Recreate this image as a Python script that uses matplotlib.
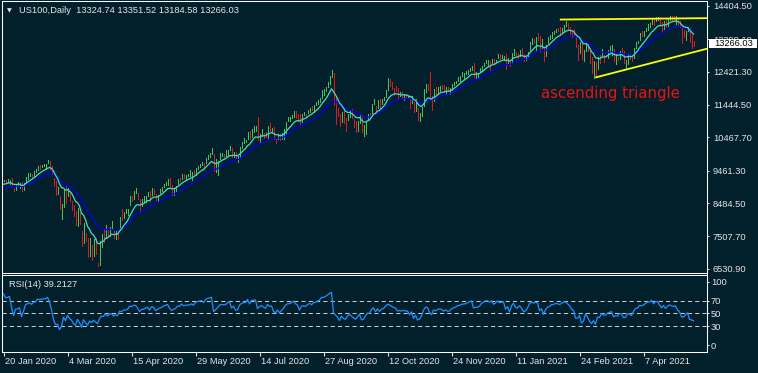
import matplotlib
matplotlib.use("Agg")
import matplotlib.pyplot as plt
import matplotlib.transforms as mtransforms
from matplotlib.patches import Rectangle
import pandas as pd

W, H = 758, 373
BG = "#01202b"
FG = "#e6e6e6"
UP = "#4cc24c"
DOWN = "#dc1c1c"

# closes of the days before the first visible bar (only used to warm up the indicators)
warmup = [8570, 8575, 8580, 8640, 8690, 8710, 8705, 8770, 8760, 8710, 8730,
          8870, 8790, 8850, 8845, 8935, 9020, 9000, 9100, 9060, 9080, 9150, 9175]

closes = [
    9180, 9140, 9150, 9180, 9050, 8890, 9040, 9060, 9080, 8870,
    9030, 9280, 9330, 9380, 9340, 9440, 9460, 9610, 9600, 9620,
    9640, 9640, 9720, 9630, 9450, 9070, 8780, 8790, 8340, 8460,
    8880, 8610, 8950, 8660, 8530, 8150, 7950, 8340, 7950, 7210,
    7880, 7400, 6900, 7330, 7020, 7290, 6990, 6650, 7200, 7550,
    7490, 7820, 7500, 7770, 7810, 7490, 7640, 7530, 8070, 8010,
    8230, 8230, 8310, 8700, 8670, 8830, 8830, 8640, 8340, 8570,
    8570, 8710, 8780, 8580, 8900, 8890, 8640, 8740, 8860, 8930,
    9050, 9120, 9200, 9000, 8860, 8940, 9010, 9190, 9180, 9370,
    9290, 9320, 9340, 9340, 9410, 9370, 9550, 9600, 9650, 9680,
    9620, 9820, 9920, 9950, 10020, 9490, 9590, 9730, 9900, 9950,
    9940, 9950, 10060, 10130, 9910, 10020, 9850, 9870, 10160, 10280,
    10340, 10360, 10600, 10430, 10710, 10760, 10770, 10400, 10550, 10620,
    10550, 10500, 10770, 10680, 10720, 10460, 10380, 10540, 10400, 10540,
    10680, 10910, 11030, 11040, 11110, 11240, 11140, 11090, 10860, 11140,
    11150, 11130, 11250, 11340, 11290, 11430, 11460, 11540, 11630, 11860,
    11860, 11950, 12110, 12290, 12420, 11460, 11310, 11150, 10850, 11140,
    10920, 10850, 11060, 11190, 11050, 10910, 10790, 10940, 11120, 10630,
    10670, 10910, 11120, 11090, 11420, 11580, 11290, 11560, 11360, 11580,
    11650, 11860, 12090, 12050, 11970, 11900, 11850, 11680, 11720, 11680,
    11740, 11690, 11700, 11500, 11670, 11240, 11440, 11050, 11100, 11300,
    11740, 12020, 12000, 11630, 11470, 11880, 11810, 11940, 11990, 11960,
    11840, 11940, 11860, 11870, 12020, 12090, 12150, 12260, 12270, 12360,
    12370, 12390, 12460, 12530, 12580, 12340, 12380, 12380, 12440, 12600,
    12660, 12760, 12760, 12720, 12800, 12710, 12770, 12900, 12850, 12870,
    12890, 12690, 12800, 12620, 12940, 13110, 12940, 12920, 13050, 12960,
    12800, 12850, 13000, 13300, 13400, 13370, 13440, 13410, 13100, 13210,
    12930, 13210, 13400, 13440, 13610, 13610, 13690, 13680, 13650, 13720,
    13810, 13830, 13770, 13710, 13590, 13540, 13200, 13190, 13300, 12830,
    12910, 13290, 13090, 12730, 12510, 12670, 12300, 12790, 12730, 13050,
    12920, 12900, 13060, 13120, 13180, 12780, 12860, 12830, 13010, 12970,
    12710, 12720, 12940, 12920, 12830, 13090, 13310, 13330, 13560, 13540,
    13600, 13720, 13850, 13850, 14000, 13860, 14040, 14050, 13920, 13790,
    13950, 13820, 13970, 14060, 14020, 14000, 14030, 13860, 13800, 13540,
    13520, 13630, 13720, 13360, 13320, 13266.03,
]

highs = [
    9200, 9190, 9230, 9190, 9240, 8950, 9050, 9140, 9090, 9140,
    9100, 9290, 9400, 9390, 9380, 9450, 9520, 9620, 9630, 9640,
    9660, 9660, 9790, 9760, 9600, 9250, 9150, 8990, 8700, 8470,
    8890, 9020, 8960, 8850, 8560, 8450, 8250, 8350, 8200, 7650,
    7900, 7600, 7440, 7450, 7230, 7420, 7460, 6700, 7360, 7560,
    7720, 7830, 7700, 7790, 7950, 7700, 7650, 7640, 8090, 8330,
    8240, 8310, 8320, 8710, 8700, 8850, 8950, 8810, 8620, 8610,
    8700, 8720, 8830, 8850, 8950, 8930, 8770, 8750, 8920, 8970,
    9060, 9130, 9230, 9240, 9040, 8950, 9020, 9230, 9260, 9380,
    9380, 9330, 9360, 9500, 9420, 9500, 9560, 9610, 9660, 9730,
    9700, 9850, 9930, 10000, 10140, 9950, 9800, 9750, 10000, 10000,
    9960, 10090, 10070, 10200, 10130, 10030, 10020, 9900, 10180, 10320,
    10440, 10380, 10620, 10650, 10720, 10800, 10790, 11080, 10570, 10700,
    10600, 10620, 10800, 10900, 10740, 10760, 10430, 10560, 10560, 10580,
    10720, 10920, 11060, 11060, 11130, 11260, 11250, 11150, 11150, 11160,
    11230, 11170, 11270, 11350, 11400, 11440, 11520, 11590, 11640, 11870,
    11910, 11960, 12120, 12300, 12480, 12400, 11680, 11350, 11160, 11230,
    11370, 11050, 11170, 11280, 11310, 11000, 10940, 10950, 11130, 11130,
    10840, 10950, 11150, 11180, 11470, 11620, 11410, 11570, 11610, 11600,
    11680, 11880, 12230, 12200, 12130, 11930, 12000, 11950, 11830, 11810,
    11760, 11750, 11720, 11720, 11690, 11520, 11600, 11350, 11200, 11380,
    11900, 12060, 12050, 12430, 11700, 11900, 11960, 11960, 12010, 12030,
    12020, 11960, 11980, 11940, 12050, 12120, 12160, 12280, 12300, 12420,
    12380, 12460, 12470, 12550, 12600, 12680, 12420, 12390, 12530, 12610,
    12690, 12780, 12790, 12740, 12810, 12800, 12790, 12960, 12970, 12920,
    12900, 12970, 12840, 12790, 12980, 13120, 13030, 13000, 13080, 13130,
    12960, 12880, 13020, 13310, 13430, 13400, 13480, 13580, 13490, 13420,
    13180, 13240, 13470, 13530, 13620, 13660, 13710, 13750, 13760, 13750,
    13820, 13950, 13890, 13760, 13680, 13710, 13450, 13240, 13310, 13370,
    13080, 13300, 13300, 13130, 12860, 12740, 12720, 12880, 12930, 13100,
    12940, 12930, 13070, 13190, 13230, 13110, 12950, 12870, 13050, 13140,
    13060, 12770, 12970, 12960, 12910, 13140, 13330, 13350, 13600, 13640,
    13640, 13740, 13860, 13880, 14010, 14050, 14060, 14070, 14060, 13930,
    13960, 14010, 14040, 14090, 14090, 14090, 14090, 14000, 13960, 13790,
    13680, 13640, 13770, 13740, 13530, 13351.52,
]

lows = [
    9150, 9080, 9140, 9060, 9000, 8870, 8900, 9040, 8950, 8860,
    8900, 9120, 9230, 9320, 9280, 9300, 9430, 9490, 9510, 9580,
    9620, 9530, 9680, 9530, 9380, 9000, 8740, 8760, 8330, 8030,
    8380, 8510, 8700, 8560, 8290, 8100, 7850, 7820, 7880, 7200,
    7290, 7350, 6880, 6920, 6780, 6900, 6970, 6620, 6630, 7170,
    7330, 7440, 7480, 7510, 7760, 7460, 7420, 7410, 7700, 7990,
    8050, 8190, 8130, 8450, 8560, 8630, 8790, 8620, 8240, 8410,
    8520, 8530, 8710, 8550, 8730, 8780, 8600, 8560, 8790, 8850,
    8980, 9050, 9040, 8990, 8740, 8750, 8860, 9060, 9160, 9230,
    9250, 9230, 9300, 9320, 9200, 9360, 9350, 9520, 9570, 9630,
    9560, 9680, 9810, 9870, 9960, 9470, 9440, 9330, 9800, 9900,
    9870, 9890, 9890, 10080, 9860, 9860, 9830, 9730, 9850, 10150,
    10300, 10320, 10420, 10420, 10470, 10630, 10640, 10380, 10300, 10490,
    10440, 10470, 10450, 10650, 10620, 10410, 10290, 10410, 10390, 10400,
    10410, 10600, 10950, 10950, 11030, 11070, 11030, 10960, 10850, 10930,
    11130, 11060, 11180, 11230, 11280, 11230, 11420, 11470, 11520, 11650,
    11720, 11850, 11960, 12050, 12260, 11420, 10860, 11100, 10800, 10920,
    10880, 10650, 10980, 11080, 11040, 10760, 10630, 10640, 10890, 10620,
    10500, 10570, 11010, 11050, 11130, 11470, 11220, 11330, 11330, 11450,
    11590, 11680, 11880, 11990, 11920, 11740, 11840, 11650, 11690, 11650,
    11570, 11640, 11680, 11350, 11480, 11220, 11250, 10970, 10940, 11100,
    11400, 11830, 11870, 11600, 11280, 11560, 11730, 11760, 11850, 11900,
    11830, 11770, 11850, 11770, 11880, 12020, 12080, 12140, 12140, 12290,
    12240, 12360, 12370, 12440, 12470, 12280, 12250, 12250, 12420, 12480,
    12590, 12700, 12640, 12470, 12700, 12700, 12710, 12830, 12820, 12840,
    12780, 12520, 12650, 12590, 12690, 12940, 12900, 12840, 12910, 12950,
    12740, 12780, 12900, 13090, 13270, 13290, 13080, 13380, 13020, 13150,
    12750, 12900, 13300, 13400, 13430, 13560, 13620, 13640, 13540, 13620,
    13660, 13790, 13710, 13570, 13480, 13500, 13170, 12780, 13000, 12800,
    12740, 13050, 13060, 12700, 12380, 12250, 12260, 12500, 12700, 12900,
    12720, 12870, 12840, 13020, 12920, 12760, 12660, 12780, 12800, 12930,
    12700, 12530, 12650, 12800, 12740, 12830, 13140, 13290, 13370, 13510,
    13510, 13640, 13680, 13780, 13870, 13840, 13940, 13990, 13830, 13660,
    13710, 13770, 13800, 13980, 13990, 13960, 13850, 13830, 13760, 13300,
    13480, 13380, 13650, 13330, 13140, 13184.58,
]

last_ohlc = [13324.74, 13351.52, 13184.58, 13266.03]
rsi_value = 39.2127

price_ticks = [14404.50, 13398.10, 12421.30, 11444.50, 10467.70,
               9461.30, 8484.50, 7507.70, 6530.90]
rsi_ticks = [100, 70, 50, 30, 0]
rsi_levels = [70, 50, 30]
date_labels = ["20 Jan 2020", "4 Mar 2020", "15 Apr 2020", "29 May 2020",
               "14 Jul 2020", "27 Aug 2020", "12 Oct 2020", "24 Nov 2020",
               "11 Jan 2021", "24 Feb 2021", "7 Apr 2021"]
date_step = 32

# trendlines of the triangle (bar index, price)
upper_x = [278.6, 352]
upper_y = [13990, 14032]
lower_x = [296.3, 352]
lower_y = [12261, 13120]

series = pd.Series(warmup + closes, dtype=float)
n0 = len(warmup)
fast = series.ewm(span=10, adjust=False).mean().iloc[n0:].to_numpy()
slow = series.ewm(span=21, adjust=False).mean().iloc[n0:].to_numpy()
delta = series.diff()
gain = delta.clip(lower=0).ewm(alpha=1 / 14, adjust=False).mean()
loss = (-delta.clip(upper=0)).ewm(alpha=1 / 14, adjust=False).mean()
rsi = (100 - 100 / (1 + gain / loss)).iloc[n0:].to_numpy()

bars = list(range(len(closes)))
opens = series.shift(1).iloc[n0:].to_numpy()
colors = [UP if c >= o else DOWN for c, o in zip(closes, opens)]

plt.rcParams["font.family"] = ["Liberation Sans", "DejaVu Sans"]


def box(left, top, right, bottom):
    return [left / W, 1 - bottom / H, (right - left) / W, (bottom - top) / H]


fig = plt.figure(figsize=(W / 100, H / 100), dpi=100, facecolor=BG)
ax = fig.add_axes(box(1.5, 0.5, 706.5, 272.5), facecolor=BG)
ax2 = fig.add_axes(box(1.5, 274.5, 706.5, 351.5), facecolor=BG)

for a in (ax, ax2):
    a.set_xlim(-1.0, 351.5)
    for s in a.spines.values():
        s.set_color("white")
        s.set_linewidth(0.75)

# price pane
ax.set_ylim(6416.5, 14560.2)
ax.vlines(bars, lows, highs, colors=colors, linewidth=0.7, antialiased=False)
ax.plot(bars, slow, color="#0000ff", linewidth=0.9)
ax.plot(bars, fast, color="#40e0c8", linewidth=0.9)
ax.plot(upper_x, upper_y, color="#ffff00", linewidth=1.3)
ax.plot(lower_x, lower_y, color="#ffff00", linewidth=1.3)
ax.text(268.6, 11650, "ascending triangle", color="#ee1111", fontsize=10.7,
        family="DejaVu Sans", va="baseline", ha="left")

ax.set_xticks([])
ax.yaxis.tick_right()
ax.set_yticks(price_ticks)
ax.set_yticklabels([f"{v:.2f}" for v in price_ticks])
ax.tick_params(axis="y", colors=FG, length=1.6, width=0.75, pad=3, labelsize=6.7)

blend = mtransforms.blended_transform_factory(ax.transAxes, ax.transData)
ax.add_patch(Rectangle((1.0035, last_ohlc[3] - 140), 48.5 / 705, 285,
                       transform=blend, facecolor="white", edgecolor="none",
                       clip_on=False, zorder=10))
ax.text(1.0035 + 24.5 / 705, last_ohlc[3], f"{last_ohlc[3]:.2f}", transform=blend,
        ha="center", va="center", color="black", fontsize=6.7, zorder=11, clip_on=False)

# RSI pane
ax2.set_ylim(-9.75, 111.3)
for lvl in rsi_levels:
    ax2.axhline(lvl, color="#c8c8c8", linewidth=0.75, dashes=(4, 3))
ax2.plot(bars, rsi, color="#1e90ff", linewidth=0.9)
ax2.yaxis.tick_right()
ax2.set_yticks(rsi_ticks)
ax2.set_yticklabels([str(v) for v in rsi_ticks])
ax2.tick_params(axis="y", colors=FG, length=1.6, width=0.75, pad=1.5, labelsize=6.7)

ax2.set_xticks([i * date_step for i in range(len(date_labels))])
ax2.set_xticklabels(date_labels)
ax2.tick_params(axis="x", colors=FG, length=3, width=0.75, pad=1, labelsize=6.7)
shift = mtransforms.ScaledTranslation(1.5 / 100, 0, fig.dpi_scale_trans)
for lbl in ax2.get_xticklabels():
    lbl.set_ha("left")
    lbl.set_transform(lbl.get_transform() + shift)

ax2.text(7.3 / 705, 0.87, f"RSI(14) {rsi_value}", transform=ax2.transAxes,
         color=FG, fontsize=6.7, va="center", ha="left")

# header
fig.text(9 / W, 1 - 10.7 / H, "\u25bc", color=FG, fontsize=4.5, family="DejaVu Sans",
         ha="center", va="center")
o, h, l, c = last_ohlc
fig.text(19 / W, 1 - 10.7 / H, f"US100,Daily  {o:.2f} {h:.2f} {l:.2f} {c:.2f}",
         color=FG, fontsize=6.7, ha="left", va="center")

fig.savefig("out.png", dpi=100, facecolor=BG)
